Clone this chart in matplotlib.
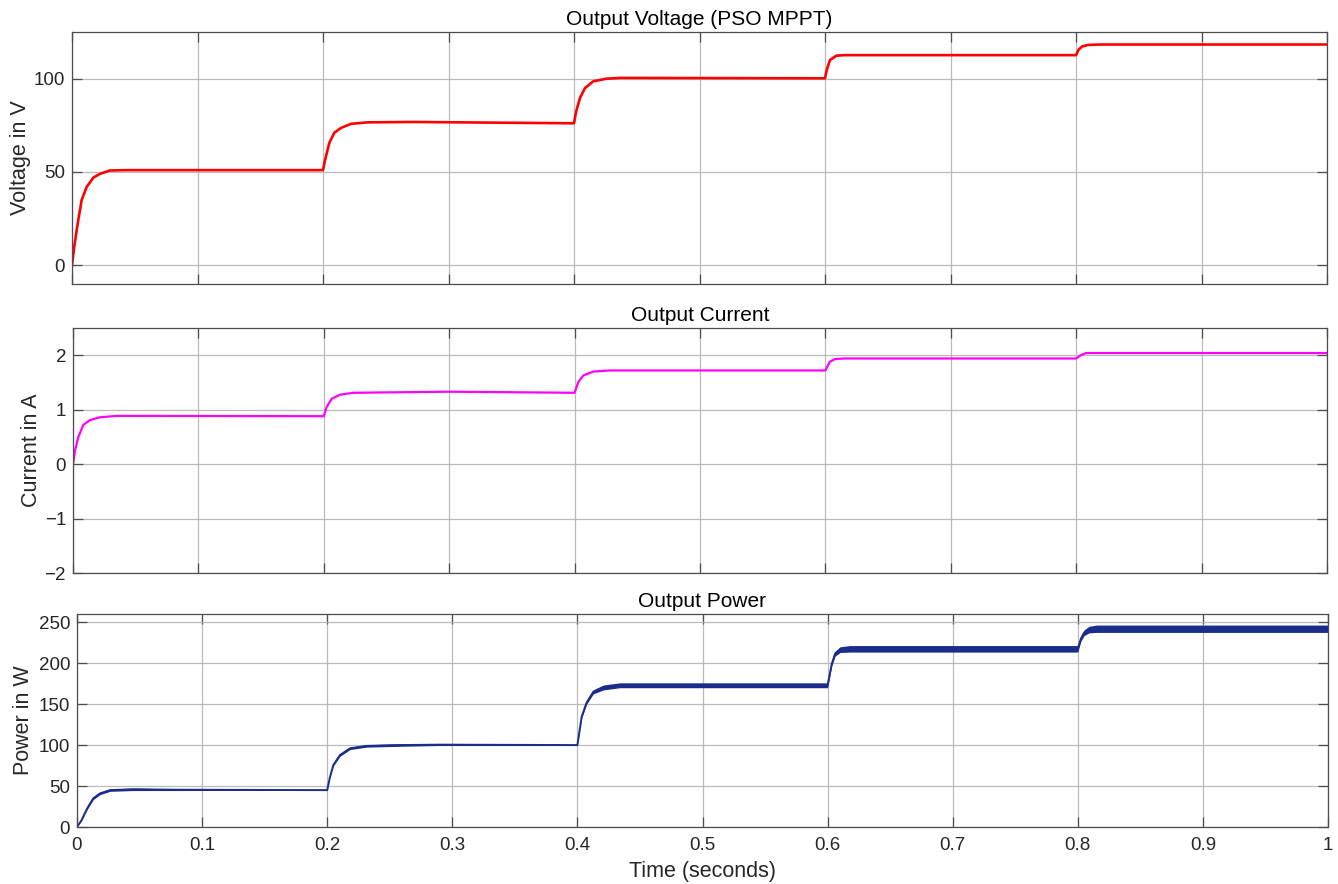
import matplotlib
matplotlib.use("Agg")
import matplotlib.pyplot as plt
import numpy as np

plt.rcParams['font.family'] = ['Liberation Sans', 'DejaVu Sans']

# ---------------- data ----------------
volt_t = [0, 0.0018, 0.0042, 0.0077, 0.0117, 0.017, 0.0223, 0.030, 0.043, 0.2,
          0.2012, 0.2024, 0.205, 0.209, 0.2143, 0.2223, 0.2355, 0.272, 0.4,
          0.401, 0.4021, 0.4048, 0.4088, 0.4154, 0.426, 0.437, 0.6,
          0.601, 0.602, 0.604, 0.609, 0.615, 0.8,
          0.801, 0.802, 0.805, 0.81, 0.82, 1.0]
volt_v = [0, 10, 21, 35, 42, 47, 49, 50.8, 51, 51,
          55, 58.5, 65.5, 71, 73.6, 75.8, 76.6, 76.8, 76.1,
          80, 83.4, 89.7, 95, 98.6, 100, 100.4, 100.2,
          103.5, 106, 110, 112.3, 112.6, 112.6,
          114, 115.5, 117.3, 118.1, 118.3, 118.3]

curr_t = [0, 0.0016, 0.0043, 0.0082, 0.0136, 0.0215, 0.035, 0.2,
          0.2023, 0.2063, 0.213, 0.2235, 0.3, 0.4,
          0.403, 0.407, 0.415, 0.428, 0.6,
          0.6035, 0.6077, 0.615, 0.8,
          0.8036, 0.808, 1.0]
curr_v = [0, 0.25, 0.5, 0.72, 0.81, 0.86, 0.886, 0.88,
          1.05, 1.2, 1.275, 1.31, 1.33, 1.31,
          1.51, 1.63, 1.70, 1.72, 1.72,
          1.88, 1.93, 1.94, 1.94,
          2.0, 2.04, 2.04]

pow_t = [0, 0.0037, 0.0082, 0.013, 0.0184, 0.0264, 0.045, 0.08, 0.2,
         0.2022, 0.2049, 0.2102, 0.2182, 0.2316, 0.258, 0.29, 0.4,
         0.4034, 0.4074, 0.4127, 0.4207, 0.434, 0.6,
         0.6033, 0.606, 0.61, 0.618, 0.8,
         0.8025, 0.805, 0.809, 0.815, 1.0]
pow_v = [0, 8.5, 22.8, 35, 41, 45, 46, 45.5, 45,
         61, 75.6, 87.8, 96, 99, 100, 100.5, 100,
         134.5, 152, 165, 170.3, 173, 173,
         199, 211.6, 216.5, 217.5, 217.5,
         230, 237, 241, 242, 242]
# peak-to-peak ripple band of the power trace (W)
pow_pp = [0, 1, 2, 3, 3, 3, 3, 2, 0.5,
          1, 2, 3, 3, 3, 3, 2, 0.5,
          3, 4, 5, 6, 6, 6,
          5, 6, 7, 8, 8,
          6, 7, 8, 9, 9]

x_ticks = [0, 0.1, 0.2, 0.3, 0.4, 0.5, 0.6, 0.7, 0.8, 0.9, 1.0]
x_ticklabels = ['0', '0.1', '0.2', '0.3', '0.4', '0.5', '0.6', '0.7', '0.8', '0.9', '1']
volt_ticks = [0, 50, 100]
curr_ticks = [-2, -1, 0, 1, 2]
pow_ticks = [0, 50, 100, 150, 200, 250]

titles = ['Output Voltage (PSO MPPT)', 'Output Current', 'Output Power']
ylabels = ['Voltage in V', 'Current in A', 'Power in W']
xlabel = 'Time (seconds)'

# ---------------- figure ----------------
W, H = 1338, 884
fig = plt.figure(figsize=(W / 100, H / 100), dpi=100)

def px_axes(l, r, t, b):
    return fig.add_axes([l / W, 1 - b / H, (r - l) / W, (b - t) / H])

ax1 = px_axes(72, 1327, 32, 284)
ax2 = px_axes(73, 1327, 328, 573)
ax3 = px_axes(77, 1328, 614, 827)

frame_col = '#4d4d4d'
tick_col = '#262626'

def style(ax, yticks, ylim, title, ylabel, label_x, show_x):
    ax.set_xlim(0, 1)
    ax.set_ylim(*ylim)
    ax.set_xticks(x_ticks)
    ax.set_yticks(yticks)
    if show_x:
        ax.set_xticklabels(x_ticklabels)
    else:
        ax.set_xticklabels([])
    ax.grid(True, color='#b4b4b4', linewidth=0.9, alpha=0.9)
    ax.set_axisbelow(True)
    ax.tick_params(direction='in', length=7, width=0.9, top=True, right=True,
                   colors=frame_col, labelcolor=tick_col, labelsize=13.5, pad=5)
    ax.tick_params(axis='x', pad=7)
    for s in ax.spines.values():
        s.set_color(frame_col)
        s.set_linewidth(0.9)
    ax.set_title(title, fontsize=15, color='black', pad=5)
    ax.set_ylabel(ylabel, fontsize=15.5, color=tick_col)
    ax.yaxis.set_label_coords(label_x, 0.5)

ax1.plot(volt_t, volt_v, color='#ff0000', linewidth=1.9, solid_joinstyle='round')
style(ax1, volt_ticks, (-10, 125), titles[0], ylabels[0], -0.033, False)

ax2.plot(curr_t, curr_v, color='#ff00ff', linewidth=1.6, solid_joinstyle='round')
style(ax2, curr_ticks, (-2, 2.5), titles[1], ylabels[1], -0.025, False)

pv = np.array(pow_v)
pp = np.array(pow_pp)
ax3.fill_between(pow_t, pv - pp / 2, pv + pp / 2, color='#1a2d8c', linewidth=0)
ax3.plot(pow_t, pow_v, color='#1a2d8c', linewidth=1.4, solid_joinstyle='round')
style(ax3, pow_ticks, (0, 260), titles[2], ylabels[2], -0.034, True)
ax3.set_xlabel(xlabel, fontsize=15.5, color=tick_col, labelpad=5)

fig.savefig('out.png', dpi=100, facecolor='white')
